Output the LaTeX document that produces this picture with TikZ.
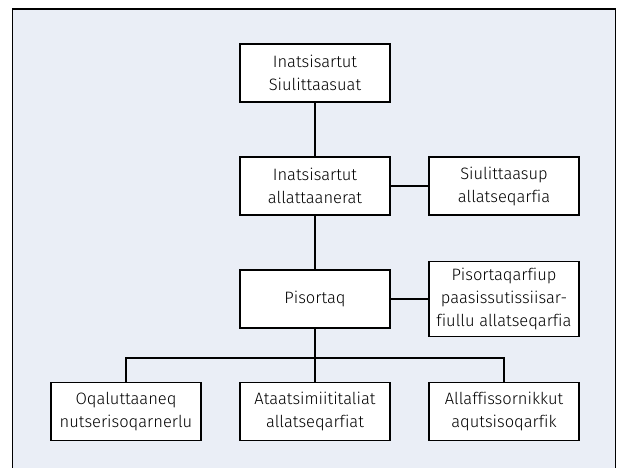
\documentclass[tikz,border=0pt]{standalone}
\usepackage{fontspec}
\setmainfont{Fira Sans}[UprightFont=* Light,Ligatures=NoCommon]
\begin{document}
\begin{tikzpicture}[x=1pt,y=-1pt,
  box/.style={draw=black,line width=1.2pt,fill=white,minimum width=150pt,minimum height=58pt,
    inner sep=0pt,align=center,font=\fontsize{16.5}{23}\selectfont},
  conn/.style={draw=black,line width=1.2pt}]
\useasboundingbox (0,0) rectangle (618,468);
\begin{scope}
\clip (0,0) rectangle (618,468);
\draw[line width=1.3pt,fill={rgb,255:red,234;green,238;blue,246}] (12.5,9) rectangle (615.5,490);
\end{scope}
\node[box] (top) at (315,73) {Inatsisartut\\Siulittaasuat};
\node[box] (alla) at (315,186) {Inatsisartut\\allattaanerat};
\node[box] (siul) at (504,186) {Siulittaasup\\allatseqarfia};
\node[box] (pis) at (315,299) {Pisortaq};
\node[box,minimum height=75pt] (pisr) at (504,299) {Pisortaqarfiup\\paasissutissiisar-\\fiullu allatseqarfia};
\node[box] (oqa) at (126,411.5) {Oqaluttaaneq\\nutserisoqarnerlu};
\node[box] (ata) at (315,411.5) {Ataatsimiititaliat\\allatseqarfiat};
\node[box] (all) at (504,411.5) {Allaffissornikkut\\aqutsisoqarfik};
\coordinate (bus) at (315,358);
\draw[conn] (top) -- (alla);
\draw[conn] (alla) -- (siul);
\draw[conn] (alla) -- (pis);
\draw[conn] (pis) -- (pisr);
\draw[conn] (pis) -- (ata);
\draw[conn] (oqa.north) |- (bus) -| (all.north);
\end{tikzpicture}
\end{document}
